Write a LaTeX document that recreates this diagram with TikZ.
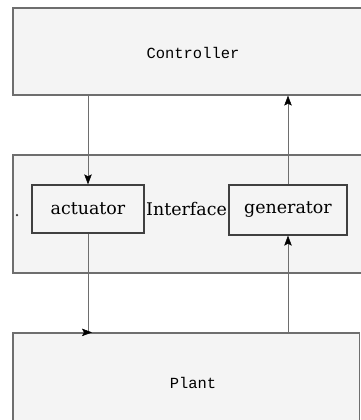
\documentclass[tikz,border=0pt]{standalone}
\usepackage{fontspec}
\setmainfont{DejaVu Serif}
\newfontfamily\monofont{Liberation Mono}
\usepackage{tikz}
\usetikzlibrary{arrows.meta}
\definecolor{boxgray}{RGB}{244,244,244}
\definecolor{linegray}{RGB}{110,110,110}
\tikzset{
    bigbox/.style={
        draw=linegray,
        line width=1.2bp,
        fill=boxgray,
        inner sep=0pt
    },
    % small boxes inside the interface
    smallbox/.style={
        draw=black!75,
        line width=1.3bp,
        fill=boxgray,
        inner sep=0pt,
        font=\rmfamily\fontsize{17.5}{19}\selectfont
    },
    monolabel/.style={
        font=\monofont\fontsize{15.5}{17}\selectfont
    },
    sigline/.style={
        line width=0.5bp,
        linegray,
        ->,
        >={Stealth[length=10bp, width=7.5bp, inset=2bp, black]}
    }
}
\begin{document}
\begin{tikzpicture}[x=1bp,y=-1bp]
    \useasboundingbox (0,0) rectangle (361,420);
    \node[bigbox,minimum width=350bp,minimum height=87bp] (ctrl) at (188,51.5) {};
    \node[monolabel] (ctrllabel) at (193,53) {Controller};
    \node[bigbox,minimum width=350bp,minimum height=118bp] (intf) at (188,214) {};
    \node[bigbox,minimum width=346.5bp,minimum height=97bp] (plant) at (186.25,381.5) {};
    \node[monolabel] (plantlabel) at (193,383) {Plant};

    \node[smallbox,minimum width=112bp,minimum height=48bp] (act) at (88,209) {actuator};
    \node[smallbox,minimum width=118bp,minimum height=50bp] (gen) at (288,210) {generator};
    \node[font=\rmfamily\fontsize{17.5}{19}\selectfont,inner sep=0pt] (intflabel) at (186.5,209) {Interface};
    \node[circle,fill=black!80,inner sep=0pt,minimum size=2.5bp] (dot) at (17,215) {};

    \draw[sigline] (ctrl.south -| act) -- (act.north);
    \draw[sigline] (act.south) |- ([xshift=4bp]act.south |- plant.north);
    \draw[sigline] (plant.north -| gen) -- (gen.south);
    \draw[sigline] (gen.north) -- (gen.north |- ctrl.south);
\end{tikzpicture}
\end{document}
